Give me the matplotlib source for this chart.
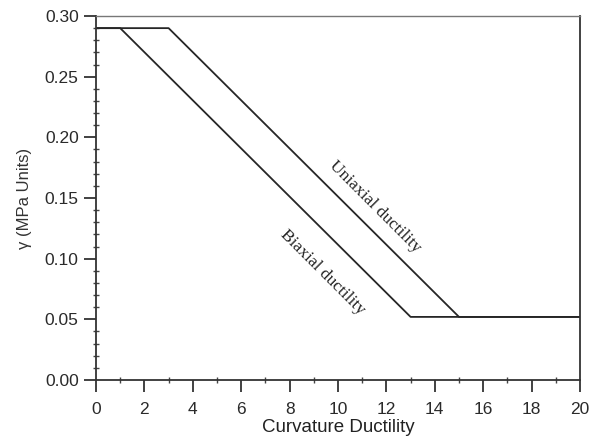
import matplotlib
matplotlib.use("Agg")
import matplotlib.pyplot as plt
from matplotlib.ticker import MultipleLocator

# Curvature ductility vs. gamma (MPa units)
uniaxial_x = [0, 3, 15, 20]
uniaxial_y = [0.29, 0.29, 0.052, 0.052]
biaxial_x = [0, 1, 13, 20]
biaxial_y = [0.29, 0.29, 0.052, 0.052]

x_ticks = [0, 2, 4, 6, 8, 10, 12, 14, 16, 18, 20]
y_ticks = [0.00, 0.05, 0.10, 0.15, 0.20, 0.25, 0.30]

fig = plt.figure(figsize=(5.97, 4.43), dpi=100)
ax = fig.add_axes([96 / 597, 63 / 443, (580 - 96) / 597, (380 - 16) / 443])

line_color = "#262626"
ax.plot(uniaxial_x, uniaxial_y, color=line_color, lw=1.3)
ax.plot(biaxial_x, biaxial_y, color=line_color, lw=1.3)

ax.set_xlim(0, 20)
ax.set_ylim(0, 0.30)
ax.set_xticks(x_ticks)
ax.set_yticks(y_ticks)
ax.set_xticklabels([f"{v:d}" for v in x_ticks])
ax.set_yticklabels([f"{v:.2f}" for v in y_ticks])
ax.xaxis.set_minor_locator(MultipleLocator(1))
ax.yaxis.set_minor_locator(MultipleLocator(0.01))

sans = ["Liberation Sans", "DejaVu Sans"]
serif = ["Liberation Serif", "DejaVu Serif"]
ax.tick_params(which="major", direction="out", length=8.5, width=1.3,
               color="#333333", labelsize=12.5, labelcolor="#2a2a2a",
               pad=4, top=False, right=False)
ax.tick_params(axis="x", which="major", pad=7)
ax.tick_params(which="minor", direction="inout", length=5, width=1.0,
               color="#444444", top=False, right=False)
for lab in ax.get_xticklabels() + ax.get_yticklabels():
    lab.set_family(sans)

for side in ["left", "bottom", "right"]:
    ax.spines[side].set_color("#333333")
    ax.spines[side].set_linewidth(1.3)
ax.spines["top"].set_color("#777777")
ax.spines["top"].set_linewidth(1.0)

ax.set_xlabel("Curvature Ductility", family=sans, fontsize=13.5,
              color="#222222", labelpad=2)
ax.set_ylabel("γ (MPa Units)", family=sans, fontsize=12,
              color="#333333", labelpad=9)

ax.text(11.53, 0.1426, "Uniaxial ductility", family=serif, fontsize=12.5,
        rotation=-45, rotation_mode="anchor", ha="center", va="center",
        color="#222222")
ax.text(9.38, 0.089, "Biaxial ductility", family=serif, fontsize=12.5,
        rotation=-45, rotation_mode="anchor", ha="center", va="center",
        color="#222222")

fig.savefig("out.png", dpi=100, facecolor="white")
